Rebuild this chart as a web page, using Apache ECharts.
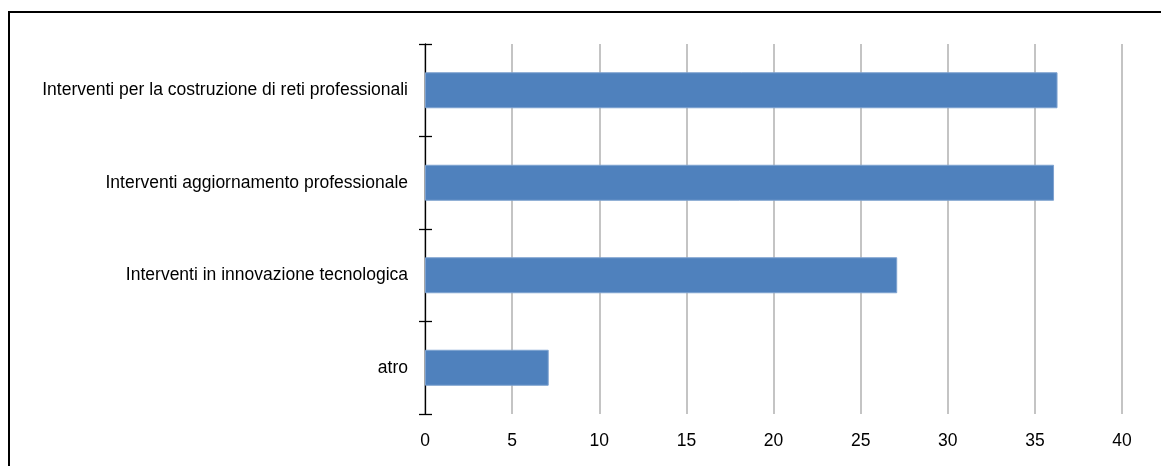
<!DOCTYPE html>
<html><head><meta charset="utf-8">
<script src="https://cdn.jsdelivr.net/npm/echarts@6/dist/echarts.min.js"></script>
<style>html,body{margin:0;padding:0;background:#fff;}#c{width:1161px;height:466px;}
#frame{position:absolute;left:8px;top:11px;width:1200px;height:600px;border-left:2px solid #000;border-top:2px solid #000;pointer-events:none;}</style>
</head><body><div id="c"></div><div id="frame"></div>
<script>
const categories = ["Interventi per la costruzione di reti professionali", "Interventi aggiornamento professionale", "Interventi in innovazione tecnologica", "atro"];
const values = [36.3, 36.1, 27.1, 7.1];
const xTicks = [0, 5, 10, 15, 20, 25, 30, 35, 40];

const font = "'Liberation Sans Narrow', 'Arial Narrow', 'Liberation Sans', sans-serif";
const chart = echarts.init(document.getElementById('c'), null, {renderer: 'canvas'});
chart.setOption({
  animation: false,
  grid: {left: 425, right: 39, top: 44, bottom: 52, containLabel: false},
  xAxis: {
    type: 'value', min: xTicks[0], max: xTicks[xTicks.length - 1], interval: 5,
    axisLine: {show: false}, axisTick: {show: false},
    axisLabel: {color: '#000', fontSize: 17.5, fontFamily: font, margin: 18},
    splitLine: {show: true, lineStyle: {color: '#b0b0b0', width: 1.5}}
  },
  yAxis: [{
    type: 'category', data: categories, inverse: true,
    axisLine: {show: true, lineStyle: {color: '#000', width: 1.3}},
    axisTick: {show: true, length: 6, lineStyle: {color: '#000', width: 1.3}},
    axisLabel: {color: '#000', fontSize: 17.5, fontFamily: font, margin: 17},
    splitLine: {show: false}
  }, {
    type: 'category', data: categories, inverse: true, position: 'left',
    axisLine: {show: false},
    axisTick: {show: true, inside: true, length: 7, lineStyle: {color: '#000', width: 1.3}},
    axisLabel: {show: false}, splitLine: {show: false}
  }],
  series: [{
    type: 'bar', data: values, yAxisIndex: 0, barWidth: 36,
    itemStyle: {color: '#4f81bd', borderColor: '#7ea2d0', borderWidth: 1}
  }]
});
</script></body></html>
